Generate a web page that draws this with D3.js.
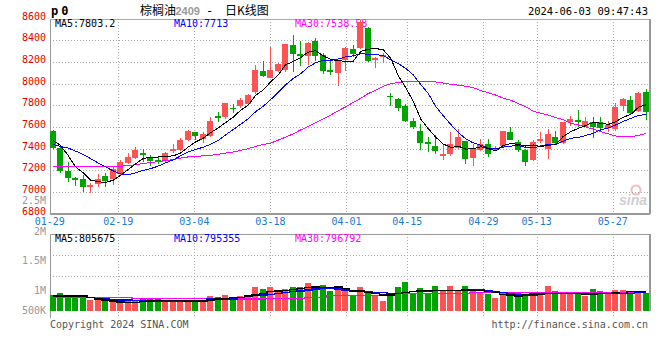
<!DOCTYPE html>
<html><head><meta charset="utf-8">
<script src="https://cdn.jsdelivr.net/npm/d3@7"></script>
<style>
body{margin:0;background:#fff;}
svg{display:block;}
text{font-family:"DejaVu Sans Mono",monospace;}
</style></head><body>
<svg id="c" width="660" height="360"></svg>
<script>
const dates = ["01-29","01-30","01-31","02-01","02-02","02-05","02-06","02-07","02-08","02-19","02-20","02-21","02-22","02-23","02-26","02-27","02-28","02-29","03-01","03-04","03-05","03-06","03-07","03-08","03-11","03-12","03-13","03-14","03-15","03-18","03-19","03-20","03-21","03-22","03-25","03-26","03-27","03-28","03-29","04-01","04-02","04-03","04-08","04-09","04-10","04-11","04-12","04-15","04-16","04-17","04-18","04-19","04-22","04-23","04-24","04-25","04-26","04-29","04-30","05-06","05-07","05-08","05-09","05-10","05-13","05-14","05-15","05-16","05-17","05-20","05-21","05-22","05-23","05-24","05-27","05-28","05-29","05-30","05-31","06-03"];
const tickLabels = ["01-29","02-19","03-04","03-18","04-01","04-15","04-29","05-13","05-27"];

const open = [7566,7405,7195,7128,7119,7049,7070,7146,7122,7164,
7271,7310,7359,7317,7298,7286,7378,7384,7475,7557,
7487,7514,7697,7688,7770,7791,7810,7922,8113,8053,
8114,8126,8351,8269,8251,8397,8266,8129,8099,8220,
8321,8330,8516,8220,8242,7886,7855,7794,7657,7566,
7457,7420,7335,7347,7408,7466,7310,7390,7444,7390,
7420,7551,7457,7384,7292,7469,7399,7511,7450,7645,
7667,7603,7648,7648,7591,7581,7794,7846,7742,7922];
const high = [7570,7420,7277,7140,7152,7079,7164,7170,7231,7292,
7359,7411,7399,7338,7323,7365,7438,7499,7572,7557,
7551,7688,7734,7825,7810,7871,7907,8169,8210,8333,
8190,8363,8449,8388,8382,8418,8281,8205,8211,8336,
8357,8590,8520,8242,8281,7916,7864,7810,7682,7627,
7511,7521,7444,7551,7581,7466,7444,7490,7490,7420,
7566,7603,7475,7399,7475,7557,7581,7566,7642,7703,
7755,7688,7694,7694,7657,7825,7871,7886,7922,7953];
const low = [7400,7177,7088,7055,7000,6988,7043,7043,7064,7146,
7262,7304,7277,7240,7256,7268,7359,7378,7466,7475,
7450,7508,7642,7673,7724,7773,7804,7901,8059,8047,
8105,8108,8108,8160,8175,8211,8084,8078,7974,8120,
8242,8320,8200,8145,8190,7794,7743,7642,7581,7384,
7368,7347,7292,7329,7399,7262,7237,7380,7323,7377,
7408,7475,7368,7237,7286,7450,7307,7444,7444,7612,
7597,7597,7499,7566,7551,7566,7743,7718,7733,7667];
const close = [7405,7195,7131,7110,7049,7064,7116,7097,7216,7277,
7323,7384,7341,7286,7277,7359,7396,7475,7560,7514,
7530,7657,7682,7816,7761,7852,7895,8129,8068,8129,
8181,8363,8272,8254,8373,8254,8120,8108,8205,8327,
8272,8570,8212,8235,8266,7877,7773,7657,7597,7450,
7438,7377,7347,7438,7511,7301,7399,7438,7347,7408,
7560,7481,7390,7277,7459,7490,7530,7450,7642,7670,
7648,7657,7597,7591,7621,7779,7861,7727,7915,7734];

const ma5 = [7475,7429,7338,7231,7178,7110,7094,7087,7108,7154,
7206,7259,7308,7322,7322,7329,7332,7359,7413,7461,
7495,7547,7589,7640,7689,7754,7801,7891,7941,8015,
8080,8174,8203,8240,8289,8303,8255,8222,8212,8203,
8206,8296,8317,8323,8311,8232,8073,7962,7834,7671,
7583,7504,7442,7410,7422,7395,7399,7417,7399,7379,
7430,7447,7437,7423,7433,7419,7429,7441,7514,7556,
7588,7613,7643,7633,7623,7649,7690,7716,7781,7803.2];
const ma10 = [7438,7420,7405,7377,7347,7307,7268,7231,7195,7166,
7158,7177,7198,7215,7238,7268,7296,7333,7368,7392,
7412,7440,7474,7527,7575,7624,7674,7740,7790,7852,
7917,7988,8047,8090,8152,8192,8214,8212,8226,8246,
8255,8276,8270,8268,8257,8219,8185,8139,8079,7991,
7908,7788,7702,7622,7547,7489,7452,7430,7405,7400,
7413,7423,7427,7411,7406,7425,7438,7439,7469,7495,
7504,7521,7542,7573,7590,7619,7652,7679,7707,7713];
const ma30 = [7237,7237,7237,7237,7237,7231,7231,7231,7231,7237,
7244,7250,7262,7271,7280,7289,7298,7313,7323,7329,
7332,7338,7347,7359,7368,7384,7399,7420,7438,7450,
7478,7505,7536,7572,7603,7639,7673,7709,7749,7785,
7825,7864,7907,7938,7974,7998,8011,8017,8020,8020,
8020,8014,8005,7992,7985,7975,7962,7935,7915,7893,
7865,7845,7815,7785,7745,7725,7708,7685,7668,7632,
7618,7598,7580,7556,7535,7515,7508,7510,7522,7538.58];

const volume = [732000,780000,732000,712000,712000,629000,649000,629000,593000,608000,
608000,608000,664000,664000,664000,608000,608000,608000,608000,608000,
608000,718000,697000,732000,629000,712000,697000,905000,857000,905000,
816000,857000,905000,905000,976000,905000,940000,816000,919000,816000,
712000,899000,789000,712000,608000,712000,899000,1003000,768000,878000,
747000,919000,830000,919000,816000,919000,816000,801000,753000,676000,
768000,753000,768000,718000,718000,801000,919000,816000,768000,768000,
768000,718000,857000,816000,768000,836000,836000,801000,816000,768000];
const volMa5 = [712000,712000,712000,712000,712000,676000,649000,629000,608000,587000,
581000,581000,593000,608000,622000,622000,622000,622000,608000,608000,
608000,629000,649000,664000,676000,676000,712000,732000,768000,801000,
816000,830000,851000,872000,884000,899000,884000,884000,899000,872000,
816000,816000,780000,768000,732000,732000,768000,780000,801000,822000,
830000,830000,830000,830000,830000,836000,830000,830000,801000,780000,
747000,732000,712000,747000,753000,753000,768000,768000,768000,768000,
768000,753000,753000,768000,768000,780000,768000,801000,801000,805675];
const volMa10 = [712000,712000,712000,712000,712000,676000,664000,649000,629000,629000,
629000,614000,608000,608000,608000,608000,608000,608000,608000,608000,
608000,649000,649000,649000,649000,676000,697000,718000,732000,747000,
768000,780000,801000,816000,836000,857000,872000,872000,857000,836000,
822000,816000,801000,789000,780000,768000,768000,780000,801000,816000,
816000,830000,830000,830000,830000,836000,843000,836000,816000,801000,
780000,768000,747000,732000,732000,747000,760000,768000,768000,768000,
760000,760000,760000,760000,760000,768000,768000,768000,780000,795355];
const volMa30 = [685000,685000,685000,685000,685000,685000,685000,685000,685000,685000,
685000,664000,664000,664000,664000,664000,664000,664000,664000,664000,
664000,649000,649000,649000,649000,649000,649000,649000,664000,664000,
664000,664000,664000,664000,685000,685000,685000,726000,726000,726000,
726000,726000,726000,726000,726000,726000,760000,760000,760000,760000,
760000,760000,760000,760000,760000,760000,780000,780000,780000,780000,
780000,780000,780000,780000,780000,780000,780000,780000,780000,780000,
780000,780000,780000,780000,780000,780000,780000,780000,780000,796792];

const priceTicks = [6800,7000,7200,7400,7600,7800,8000,8200,8400,8600];
const volTicks = [2500000,2000000,1500000,1000000,500000];
const volTickLabels = ["2.5M","2M","1.5M","1M","500K"];
const symbol = "p0";
const titleName = "棕榈油";
const titleCode = "2409";
const titleKind = "日K线图";
const timeStamp = "2024-06-03 09:47:43";

const UP = "#ff5353", DOWN = "#00a400";
const svg = d3.select("#c");
const L = 50, R = 649, T = 18.5, B = 213.5, VT = 234.3, VB = 317.7, VBASE = 311;
const n = dates.length;
const x = d3.scaleLinear().domain([0, n - 1]).range([53, 646]);
const gx = d3.scaleLinear().domain([9, 74]).range([118.3, 612.7]);
const y = d3.scaleLinear().domain([6800, 8600]).range([213.6, 18.5]);
const vy = d3.scaleLinear().domain([400000, 2000000]).range([VBASE, 234]);
const vLab = d3.scaleLinear().domain([500000, 1000000, 1500000, 2000000, 2500000]).range([314, 294, 264, 235, 204]);

svg.append("rect").attr("width", 660).attr("height", 360).attr("fill", "#fff");

const tickIdx = tickLabels.map(t => dates.indexOf(t));

// grid main
const g = svg.append("g").attr("shape-rendering", "crispEdges");
g.selectAll(".hg").data(priceTicks.filter(v => v > 6800 && v < 8600)).join("line")
  .attr("x1", L).attr("x2", R).attr("y1", d => Math.round(y(d)) + 0.5).attr("y2", d => Math.round(y(d)) + 0.5)
  .attr("stroke", "#aaa").attr("stroke-dasharray", "1,2");
g.selectAll(".vg").data(tickIdx.slice(1)).join("line")
  .attr("x1", d => Math.round(gx(d)) + 0.5).attr("x2", d => Math.round(gx(d)) + 0.5)
  .attr("y1", T).attr("y2", B).attr("stroke", "#aaa").attr("stroke-dasharray", "1,2");
// grid volume
[VT + (VB - VT) / 4, VT + (VB - VT) / 2].forEach(yy => {
  g.append("line").attr("x1", L).attr("x2", R).attr("y1", Math.round(yy) + 0.5).attr("y2", Math.round(yy) + 0.5)
    .attr("stroke", "#aaa").attr("stroke-dasharray", "1,2");
});
g.selectAll(".vvg").data(tickIdx.slice(1)).join("line")
  .attr("x1", d => Math.round(gx(d)) + 0.5).attr("x2", d => Math.round(gx(d)) + 0.5)
  .attr("y1", VT).attr("y2", 318).attr("stroke", "#aaa").attr("stroke-dasharray", "1,2");

// borders
g.append("line").attr("x1", L).attr("x2", R + 1).attr("y1", Math.round(T) + 0.5).attr("y2", Math.round(T) + 0.5).attr("stroke", "#aaa");
g.append("line").attr("x1", L + 0.5).attr("x2", L + 0.5).attr("y1", T).attr("y2", B).attr("stroke", "#999");
g.append("line").attr("x1", R + 0.5).attr("x2", R + 0.5).attr("y1", T).attr("y2", B).attr("stroke", "#999").attr("stroke-width", 2);
g.append("line").attr("x1", L).attr("x2", R + 1).attr("y1", B).attr("y2", B).attr("stroke", "#999").attr("stroke-width", 2);
g.append("line").attr("x1", L).attr("x2", R + 1).attr("y1", Math.round(VT) + 0.5).attr("y2", Math.round(VT) + 0.5).attr("stroke", "#999");
g.append("line").attr("x1", L + 0.5).attr("x2", L + 0.5).attr("y1", VT).attr("y2", VB).attr("stroke", "#999");
g.append("line").attr("x1", R + 0.5).attr("x2", R + 0.5).attr("y1", VT).attr("y2", VBASE).attr("stroke", "#999").attr("stroke-width", 2);

// y labels
svg.selectAll(".yl").data(priceTicks).join("text")
  .attr("x", 46).attr("y", d => y(d) + 1).attr("text-anchor", "end")
  .attr("font-size", "10px").attr("fill", "#e60000").text(d => d);
svg.selectAll(".vl").data(volTicks).join("text")
  .attr("x", 46).attr("y", d => vLab(d)).attr("text-anchor", "end")
  .attr("font-size", "10px").attr("fill", "#999").text((d, i) => volTickLabels[i]);
// x labels
svg.selectAll(".xl").data(tickIdx).join("text")
  .attr("x", d => gx(d)).attr("y", 225).attr("text-anchor", "middle")
  .attr("font-size", "10px").attr("fill", "#1a7ad6").text((d, i) => tickLabels[i]);

// header
svg.append("text").attr("x", 51).attr("y", 14.5).attr("font-size", "12px").attr("font-weight", "bold")
  .attr("letter-spacing", "3px").attr("fill", "#000").text(symbol);
svg.append("text").attr("x", 140).attr("y", 14.5).attr("font-size", "12px").attr("fill", "#000")
  .style("font-family", "'Noto Sans CJK SC'").text(titleName);
svg.append("text").attr("x", 175.5).attr("y", 14.5).attr("font-size", "11px").attr("fill", "#999").attr("font-weight", "bold")
  .style("font-family", "'Liberation Sans',Arial").text(titleCode);
svg.append("text").attr("x", 206).attr("y", 14.5).attr("font-size", "12px").attr("fill", "#000").text("-");
svg.append("text").attr("x", 225).attr("y", 14.5).attr("font-size", "12px").attr("fill", "#000")
  .style("font-family", "'Noto Sans CJK SC'").text(titleKind);
svg.append("text").attr("x", 648).attr("y", 15).attr("text-anchor", "end").attr("font-size", "10.5px").attr("fill", "#000").text(timeStamp);

const maText = (yy, vals) => {
  svg.append("text").attr("x", 55).attr("y", yy).attr("font-size", "10px").attr("fill", "#000").text("MA5:" + vals[0]);
  svg.append("text").attr("x", 174).attr("y", yy).attr("font-size", "10px").attr("fill", "#0000ff").text("MA10:" + vals[1]);
  svg.append("text").attr("x", 295).attr("y", yy).attr("font-size", "10px").attr("fill", "#ff00ff").text("MA30:" + vals[2]);
};
maText(27, [ma5[n - 1], ma10[n - 1], ma30[n - 1]]);
maText(241.7, [volMa5[n - 1], volMa10[n - 1], volMa30[n - 1]]);

// sina watermark
const wm = svg.append("g").attr("opacity", 0.55);
wm.append("circle").attr("cx", 636).attr("cy", 190).attr("r", 4.5).attr("fill", "none").attr("stroke", "#e08a8a").attr("stroke-width", 2);
wm.append("text").attr("x", 619).attr("y", 205).attr("font-size", "14px").attr("font-style", "italic").attr("font-weight", "bold")
  .attr("fill", "#aaa").style("font-family", "'Liberation Sans',Arial").text("sina");

// candles
const idx = d3.range(n);
const cg = svg.append("g").attr("shape-rendering", "crispEdges");
const col = i => close[i] >= open[i] ? UP : DOWN;
cg.selectAll(".wick").data(idx).join("rect")
  .attr("x", i => Math.floor(x(i))).attr("width", 1)
  .attr("y", i => Math.round(y(high[i]))).attr("height", i => Math.max(1, Math.round(y(low[i])) - Math.round(y(high[i]))))
  .attr("fill", col);
cg.selectAll(".body").data(idx).join("rect")
  .attr("x", i => Math.floor(x(i)) - 3).attr("width", 6)
  .attr("y", i => Math.round(y(Math.max(open[i], close[i]))))
  .attr("height", i => Math.max(1, Math.round(y(Math.min(open[i], close[i]))) - Math.round(y(Math.max(open[i], close[i])))))
  .attr("fill", col);

// volume bars
cg.selectAll(".vb").data(idx).join("rect")
  .attr("x", i => Math.floor(x(i)) - 3).attr("width", 6)
  .attr("y", i => Math.round(vy(volume[i]))).attr("height", i => VBASE - Math.round(vy(volume[i])))
  .attr("fill", col);

// MA lines
const line = d3.line().x((d, i) => x(i)).y(d => y(d));
const lg = svg.append("g").attr("fill", "none").attr("stroke-width", 1).attr("shape-rendering", "crispEdges");
lg.append("path").attr("d", line(ma30)).attr("stroke", "#ff00ff");
lg.append("path").attr("d", line(ma10)).attr("stroke", "#0000ff");
lg.append("path").attr("d", line(ma5)).attr("stroke", "#000");
const vline = d3.line().x((d, i) => x(i)).y(d => vy(d)).curve(d3.curveStep);
lg.append("path").attr("d", vline(volMa30)).attr("stroke", "#ff00ff").attr("stroke-width", 1.5);
lg.append("path").attr("d", vline(volMa10)).attr("stroke", "#0000ff").attr("stroke-width", 1.5);
lg.append("path").attr("d", vline(volMa5)).attr("stroke", "#000").attr("stroke-width", 1.5);

// footer
svg.append("text").attr("x", 50).attr("y", 327.5).attr("font-size", "10px").attr("fill", "#555").text("Copyright 2024 SINA.COM");
svg.append("text").attr("x", 648).attr("y", 327.5).attr("text-anchor", "end").attr("font-size", "10px").attr("fill", "#555").text("http://finance.sina.com.cn");
</script>
</body></html>
